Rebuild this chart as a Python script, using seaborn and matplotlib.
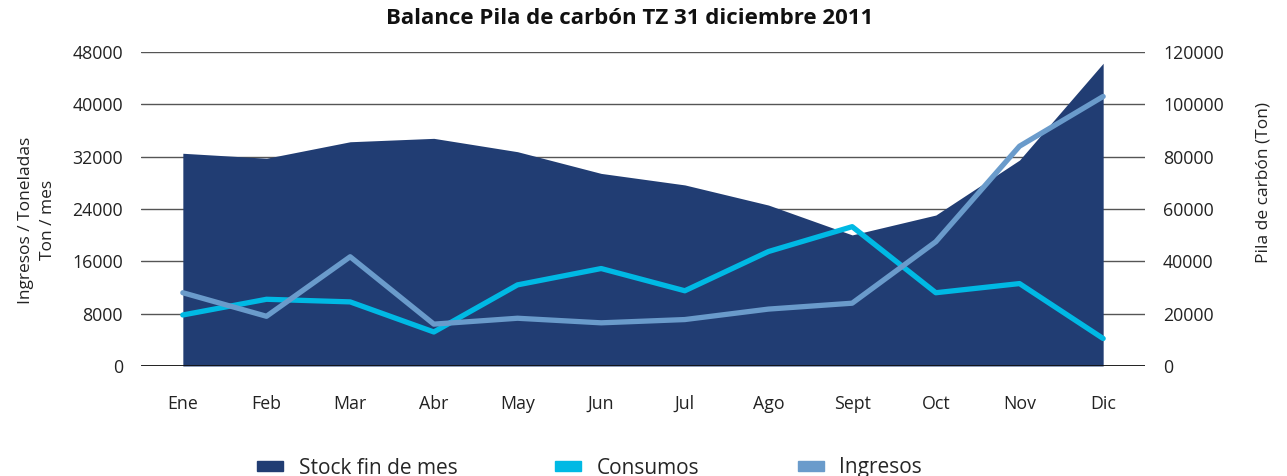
import matplotlib
matplotlib.use("Agg")
import matplotlib.pyplot as plt
from matplotlib.patches import Patch
import seaborn as sns
import pandas as pd
import numpy as np

#####                      data                      #####
meses = ['Ene', 'Feb', 'Mar', 'Abr', 'May', 'Jun', 'Jul', 'Ago', 'Sept', 'Oct', 'Nov', 'Dic']
stock = [81300, 79400, 85700, 87000, 81900, 73600, 69200, 61500, 50100, 57700, 78700, 115700]
consumos = [7800, 10200, 9800, 5200, 12400, 14900, 11500, 17500, 21300, 11200, 12600, 4200]
ingresos = [11200, 7600, 16700, 6400, 7300, 6600, 7100, 8700, 9600, 19000, 33600, 41200]

c_stock = '#213d73'
c_cons = '#00b9e4'
c_ing = '#6a9bcb'

sns.set_style('white')
plt.rcParams['font.family'] = ['Open Sans', 'DejaVu Sans']

df = pd.DataFrame({'mes': meses, 'x': np.arange(len(meses)),
                   'Stock fin de mes': stock, 'Consumos': consumos, 'Ingresos': ingresos})

fig = plt.figure(figsize=(12.87, 4.76), dpi=100)
ax = fig.add_axes([141 / 1287, 110 / 476, 1004 / 1287, 314 / 476])

# area (stock) lives on the right-hand scale, drawn on the bottom axes
ax.fill_between(df['x'], 0, df['Stock fin de mes'], color=c_stock, lw=0, zorder=2)
ax.set_ylim(0, 120000)
ax.set_xlim(-0.5, 11.5)
ax.set_yticks(np.arange(0, 120001, 20000))
ax.set_axisbelow(True)
ax.grid(axis='y', color='#555555', lw=1.0)
ax.grid(axis='x', visible=False)
ax.axhline(0, color='#111111', lw=2, zorder=3)

# lines on the left-hand scale, on top
ax2 = ax.twinx()
sns.lineplot(data=df, x='x', y='Consumos', ax=ax2, color=c_cons, lw=3.8, zorder=4)
sns.lineplot(data=df, x='x', y='Ingresos', ax=ax2, color=c_ing, lw=3.8, zorder=5)
ax2.set_ylim(0, 48000)
ax2.set_yticks(np.arange(0, 48001, 8000))

# swap sides: stock scale right, tonnage scale left
ax.yaxis.tick_right()
ax.yaxis.set_label_position('right')
ax2.yaxis.tick_left()
ax2.yaxis.set_label_position('left')
ax.set_ylabel('Pila de carbón (Ton)', fontsize=12.5, color='#222222')
ax.yaxis.set_label_coords(1.1096, 0.583)
ax2.set_ylabel('Ingresos / Toneladas\nTon / mes', fontsize=12.5, color='#222222', linespacing=1.5)
ax2.yaxis.set_label_coords(-0.0847, 0.465)
ax2.set_xlabel('')

ax.set_xticks(df['x'])
ax.set_xticklabels(meses)
for a in (ax, ax2):
    for s in a.spines.values():
        s.set_visible(False)
    a.tick_params(axis='both', length=0, labelsize=12.8, labelcolor='#222222')
ax.tick_params(axis='x', pad=21)
ax.tick_params(axis='y', pad=13)
ax2.tick_params(axis='y', pad=13)

fig.text(0.4895, 1 - 19 / 476, 'Balance Pila de carbón TZ 31 diciembre 2011',
         ha='center', va='center', fontsize=16, fontweight='bold', color='#111111')

handles = [Patch(color=c_stock), Patch(color=c_cons), Patch(color=c_ing)]
fig.legend(handles, ['Stock fin de mes', 'Consumos', 'Ingresos'], ncol=3,
           loc='center', bbox_to_anchor=(0.458, 8 / 476), frameon=False,
           fontsize=15, handlelength=1.25, handleheight=0.33, handletextpad=0.75,
           columnspacing=4.7)

fig.savefig('out.png', dpi=100)
